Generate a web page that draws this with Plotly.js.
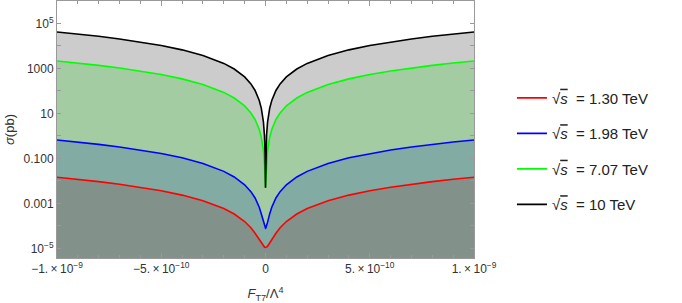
<!DOCTYPE html>
<html>
<head>
<meta charset="utf-8">
<script src="https://cdn.plot.ly/plotly-3.0.1.min.js"></script>
<style>html,body{margin:0;padding:0;background:#fff;}#chart{width:682px;height:303px;}</style>
</head>
<body>
<div id="chart"></div>
<script>
// F_T7 / Lambda^4 values (sampling points)
const fT7 = [-1e-9, -9e-10, -8e-10, -7e-10, -6e-10, -5e-10, -4e-10, -3e-10, -2e-10, -1.5e-10, -1e-10, -7e-11, -5e-11, -3e-11, -2e-11, -1e-11, -5e-12, -2e-12, 0,
             2e-12, 5e-12, 1e-11, 2e-11, 3e-11, 5e-11, 7e-11, 1e-10, 1.5e-10, 2e-10, 3e-10, 4e-10, 5e-10, 6e-10, 7e-10, 8e-10, 9e-10, 1e-9];

// cross sections (pb)
const sig130 = [1.45e-2, 1.18e-2, 9.3e-3, 7.12e-3, 5.23e-3, 3.64e-3, 2.33e-3, 1.32e-3, 5.9e-4, 3.37e-4, 1.56e-4, 8.2e-5, 4.7e-5, 2.4e-5, 1.68e-5, 1.25e-5, 1.14e-5, 1.106e-5, 1.1e-5,
                1.106e-5, 1.14e-5, 1.25e-5, 1.68e-5, 2.4e-5, 4.7e-5, 8.2e-5, 1.56e-4, 3.37e-4, 5.9e-4, 1.32e-3, 2.33e-3, 3.64e-3, 5.23e-3, 7.12e-3, 9.3e-3, 1.18e-2, 1.45e-2];
const sig198 = [0.66, 0.535, 0.422, 0.323, 0.238, 0.165, 0.106, 5.95e-2, 2.65e-2, 1.49e-2, 6.7e-3, 3.31e-3, 1.73e-3, 6.7e-4, 3.4e-4, 1.46e-4, 9.7e-5, 8.3e-5, 8e-5,
                8.3e-5, 9.7e-5, 1.46e-4, 3.4e-4, 6.7e-4, 1.73e-3, 3.31e-3, 6.7e-3, 1.49e-2, 2.65e-2, 5.95e-2, 0.106, 0.165, 0.238, 0.323, 0.422, 0.535, 0.66];
const sig707 = [2150, 1742, 1376, 1054, 774, 538, 344, 194, 86, 48.4, 21.5, 10.5, 5.38, 1.94, 0.86, 0.22, 0.059, 0.0136, 0.005,
                0.0136, 0.059, 0.22, 0.86, 1.94, 5.38, 10.5, 21.5, 48.4, 86, 194, 344, 538, 774, 1054, 1376, 1742, 2150];
const sig10 = [42000, 34020, 26880, 20580, 15120, 10500, 6720, 3780, 1680, 945, 420, 206, 105, 37.8, 16.8, 4.2, 1.05, 0.168, 0.005,
               0.168, 1.05, 4.2, 16.8, 37.8, 105, 206, 420, 945, 1680, 3780, 6720, 10500, 15120, 20580, 26880, 34020, 42000];

const seriesNames = ['1.30 TeV', '1.98 TeV', '7.07 TeV', '10 TeV'];
const seriesData = [sig130, sig198, sig707, sig10];
const lineColors = ['#ff0000', '#0000ff', '#00ff00', '#000000'];
const bandColors = ['rgb(130,145,137)', 'rgb(130,171,163)', 'rgb(163,204,163)', 'rgb(204,204,204)'];

const yTickVals = [1e5, 1e4, 1e3, 1e2, 10, 1, 0.1, 0.01, 0.001, 1e-4, 1e-5];
const yTickText = ['10<sup>5</sup>', '', '1000', '', '10', '', '0.100', '', '0.001', '', '10<sup>−5</sup>'];
const xTickVals = [-1e-9, -5e-10, 0, 5e-10, 1e-9];
const xTickText = ['−1.\u2009×\u200910<sup>−9</sup>', '−5.\u2009×\u200910<sup>−10</sup>', '0', '5.\u2009×\u200910<sup>−10</sup>', '1.\u2009×\u200910<sup>−9</sup>'];

const traces = [];
// floor for the lowest band
traces.push({x: [fT7[0], fT7[fT7.length - 1]], y: [1e-8, 1e-8], mode: 'lines', line: {width: 0}, showlegend: false, hoverinfo: 'skip'});
seriesData.forEach((d, i) => {
  traces.push({x: fT7, y: d, mode: 'lines', line: {width: 0}, fill: 'tonexty', fillcolor: bandColors[i], showlegend: false, hoverinfo: 'skip'});
});
seriesData.forEach((d, i) => {
  traces.push({
    x: fT7, y: d, mode: 'lines', line: {color: lineColors[i], width: 1.6},
    name: '√<span style="text-decoration:overline"><i>s</i></span>\u00a0 = ' + seriesNames[i],
    legendgroup: 'g' + i
  });
});

const axisCommon = {
  showline: true, linecolor: '#999', linewidth: 1, mirror: 'ticks',
  ticks: 'inside', tickcolor: '#999', tickwidth: 1, showgrid: false, zeroline: false,
  tickfont: {family: 'Liberation Sans, Arial, sans-serif', size: 12, color: '#333'}
};

const layout = {
  width: 682, height: 303,
  margin: {l: 57, r: 208, t: 1, b: 45},
  paper_bgcolor: '#fff', plot_bgcolor: '#fff',
  font: {family: 'Liberation Sans, Arial, sans-serif', color: '#333'},
  xaxis: Object.assign({}, axisCommon, {
    range: [-1e-9, 1e-9], tickmode: 'array', tickvals: xTickVals, ticktext: xTickText, ticklen: 5,
    minor: {ticks: 'inside', tickmode: 'linear', tick0: 0, dtick: 1e-10, ticklen: 3, tickcolor: '#999'},
    title: {text: '<i>F</i><sub>T7</sub>/Λ<sup>4</sup>', font: {size: 13, color: '#333'}, standoff: 14}
  }),
  yaxis: Object.assign({}, axisCommon, {
    type: 'log', range: [-5.43, 6.0], tickmode: 'array', tickvals: yTickVals, ticktext: yTickText, ticklen: 4,
    title: {text: '<i>σ</i>(pb)', font: {size: 13, color: '#333'}, standoff: 6}
  }),
  showlegend: true,
  legend: {
    x: 1.091, xanchor: 'left', y: 0.416, yanchor: 'middle',
    font: {family: 'Liberation Sans, Arial, sans-serif', size: 15, color: '#222'},
    tracegroupgap: 13, bgcolor: 'rgba(0,0,0,0)', borderwidth: 0
  }
};

Plotly.newPlot('chart', traces, layout, {staticPlot: true, displayModeBar: false});
</script>
</body>
</html>
